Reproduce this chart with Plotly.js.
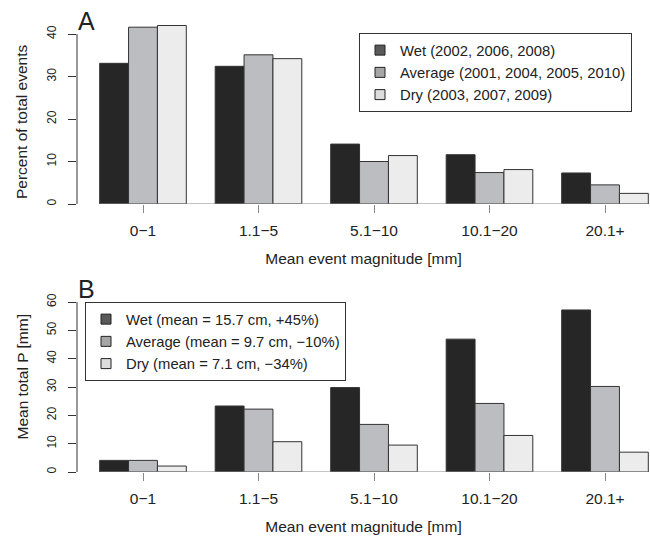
<!DOCTYPE html>
<html><head><meta charset="utf-8">
<script src="https://cdn.plot.ly/plotly-3.0.1.min.js"></script>
<style>html,body{margin:0;padding:0;background:#fff}</style>
</head><body><div id="chart" style="width:650px;height:537px"></div>
<script>
// ---- data ----
const categories = ['0\u22121', '1.1\u22125', '5.1\u221210', '10.1\u221220', '20.1+'];
const pctWet = [33.1, 32.4, 14.1, 11.6, 7.3];
const pctAvg = [41.6, 35.1, 10.0, 7.4, 4.5];
const pctDry = [42.0, 34.2, 11.4, 8.1, 2.5];
const pWet = [4.1, 23.3, 29.8, 46.9, 57.2];
const pAvg = [4.1, 22.2, 16.8, 24.2, 30.2];
const pDry = [2.1, 10.7, 9.5, 12.9, 7.0];
const legendA = ['Wet (2002, 2006, 2008)', 'Average (2001, 2004, 2005, 2010)', 'Dry (2003, 2007, 2009)'];
const legendB = ['Wet (mean = 15.7 cm, +45%)', 'Average (mean = 9.7 cm, \u221210%)', 'Dry (mean = 7.1 cm, \u221234%)'];
const yTicksA = [0, 10, 20, 30, 40];
const yTicksB = [0, 10, 20, 30, 40, 50, 60];
const xTitle = 'Mean event magnitude [mm]';
const yTitleA = 'Percent of total events';
const yTitleB = 'Mean total P [mm]';

// ---- styling ----
const W = 650, H = 537;
const px = v => v / W;
const py = v => 1 - v / H;
const FONT = 'Liberation Sans, Arial, Helvetica, sans-serif';
const TXT = '#222';
const barFill = ['#262626', '#bcbdc0', '#ececec'];
const legFill = ['#595959', '#a6a6a6', '#dcdcdc'];
const edge = {color: '#333', width: 1};

function bars(vals, i, xa, ya) {
  return {type: 'bar', x: categories, y: vals, xaxis: xa, yaxis: ya,
    marker: {color: barFill[i], line: edge}, showlegend: false, hoverinfo: 'skip'};
}
function legItem(name, i, xa, ya, lg) {
  return {type: 'scatter', mode: 'markers', x: [categories[0]], y: [null], xaxis: xa, yaxis: ya,
    name: name, legend: lg, showlegend: true,
    marker: {symbol: 'square', size: 10, color: legFill[i], line: {color: '#222', width: 1}}};
}

const data = [
  bars(pctWet, 0, 'x', 'y'), bars(pctAvg, 1, 'x', 'y'), bars(pctDry, 2, 'x', 'y'),
  bars(pWet, 0, 'x2', 'y2'), bars(pAvg, 1, 'x2', 'y2'), bars(pDry, 2, 'x2', 'y2'),
  legItem(legendA[0], 0, 'x', 'y', 'legend'), legItem(legendA[1], 1, 'x', 'y', 'legend'), legItem(legendA[2], 2, 'x', 'y', 'legend'),
  legItem(legendB[0], 0, 'x2', 'y2', 'legend2'), legItem(legendB[1], 1, 'x2', 'y2', 'legend2'), legItem(legendB[2], 2, 'x2', 'y2', 'legend2')
];

const xRange = [-0.5714, 4.3896];
function xAxis(anchor) {
  return {type: 'category', domain: [px(77), 1], range: xRange, anchor: anchor,
    showgrid: false, zeroline: false, showline: false,
    ticks: 'outside', ticklen: 8, tickwidth: 1, tickcolor: '#888', ticklabelstandoff: 4,
    tickfont: {family: FONT, size: 15.5, color: TXT},
    title: {text: xTitle, font: {family: FONT, size: 15.5, color: TXT}, standoff: 15}};
}
function yAxis(anchor, dom, rng, tv) {
  return {domain: dom, range: rng, anchor: anchor, tickvals: tv, ticktext: tv.map(String),
    showgrid: false, zeroline: false, showline: false,
    ticks: 'outside', ticklen: 8, tickwidth: 1, tickcolor: '#333', tickangle: -90, ticklabelstandoff: 7,
    tickfont: {family: FONT, size: 12, color: TXT}};
}

function ann(text, x, y, size, angle) {
  return {text: text, xref: 'paper', yref: 'paper', x: px(x), y: py(y), xanchor: 'center', yanchor: 'middle',
    textangle: angle, showarrow: false, font: {family: FONT, size: size, color: TXT}};
}

const layout = {
  width: W, height: H, margin: {l: 0, r: 0, t: 0, b: 0},
  paper_bgcolor: '#fff', plot_bgcolor: 'rgba(0,0,0,0)',
  font: {family: FONT, color: TXT},
  barmode: 'group', bargap: 0.25, bargroupgap: 0,
  xaxis: xAxis('y'),
  yaxis: yAxis('x', [py(204), py(17)], [0, 44], yTicksA),
  xaxis2: xAxis('y2'),
  yaxis2: yAxis('x2', [py(472), py(290.7)], [0, 64], yTicksB),
  legend: {x: px(359), y: py(33), xanchor: 'left', yanchor: 'top', bordercolor: '#333', borderwidth: 1,
    bgcolor: '#fff', font: {family: FONT, size: 14.8, color: TXT}, itemwidth: 30, traceorder: 'normal'},
  legend2: {x: px(85), y: py(302), xanchor: 'left', yanchor: 'top', bordercolor: '#333', borderwidth: 1,
    bgcolor: '#fff', font: {family: FONT, size: 14.8, color: TXT}, itemwidth: 30, traceorder: 'normal'},
  shapes: [
    {type: 'line', xref: 'paper', yref: 'y', x0: px(77), x1: px(77), y0: 0, y1: yTicksA[yTicksA.length - 1], line: {color: '#333', width: 1}},
    {type: 'line', xref: 'paper', yref: 'y2', x0: px(77), x1: px(77), y0: 0, y1: yTicksB[yTicksB.length - 1], line: {color: '#333', width: 1}},
    {type: 'line', xref: 'x', yref: 'y', x0: -0.375, x1: categories.length - 1 + 0.375, y0: 0, y1: 0, line: {color: '#888', width: 1}},
    {type: 'line', xref: 'x2', yref: 'y2', x0: -0.375, x1: categories.length - 1 + 0.375, y0: 0, y1: 0, line: {color: '#888', width: 1}}
  ],
  annotations: [
    ann('A', 86, 21, 25, 0),
    ann('B', 86, 289, 25, 0),
    ann(yTitleA, 22, 122, 15.5, -90),
    ann(yTitleB, 22, 377.5, 15.5, -90)
  ]
};

Plotly.newPlot('chart', data, layout, {displayModeBar: false, staticPlot: true});
</script>
</body></html>
